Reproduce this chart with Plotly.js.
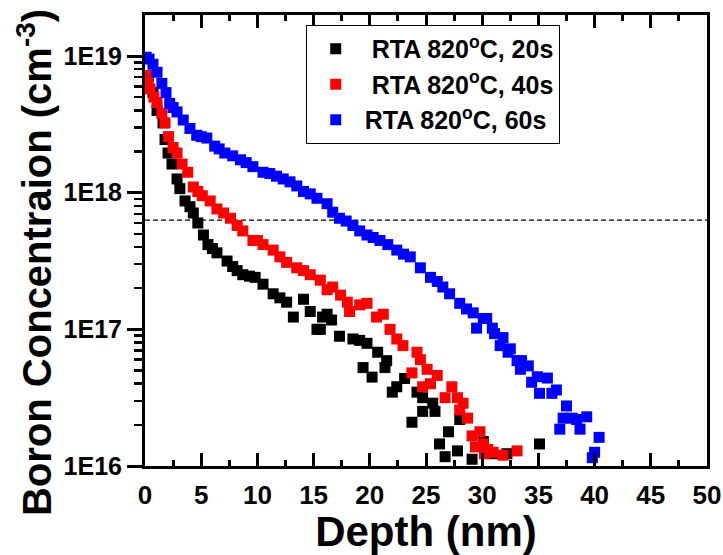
<!DOCTYPE html>
<html>
<head>
<meta charset="utf-8">
<script src="https://cdn.plot.ly/plotly-3.0.1.min.js"></script>
<style>html,body{margin:0;padding:0;background:#fff;}#chart{width:723px;height:555px;}</style>
</head>
<body>
<div id="chart"></div>
<script>
// Depth (nm) and boron concentration (cm^-3)
const depth20 = [0.3,0.71,1.07,1.6,1.78,2.05,2.4,2.85,3.1,3.56,4.0,4.3,4.7,5.2,5.6,6.0,6.4,7.3,7.8,8.2,8.7,9.3,9.8,10.5,11.4,12.0,12.6,13.2,14.1,14.7,15.3,15.6,15.8,16.2,16.6,17.3,18.5,19.1,19.4,19.75,20.2,20.7,21.35,21.5,22.0,22.4,23.1,23.75,24.2,24.7,24.7,25.6,25.8,26.2,26.7,27.0,27.8,28.0,29.1,30.1,30.9,32.2,35.1];
const conc20  = [7.1e18,5.4e18,4.0e18,3.24e18,2.45e18,1.95e18,1.62e18,1.26e18,1.07e18,8.7e17,7.9e17,7.1e17,6.0e17,4.9e17,4.17e17,3.9e17,3.63e17,3.16e17,2.88e17,2.69e17,2.51e17,2.45e17,2.40e17,2.14e17,1.82e17,1.70e17,1.58e17,1.23e17,1.66e17,1.35e17,1.0e17,1.0e17,1.23e17,1.29e17,1.17e17,8.9e16,8.5e16,8.3e16,5.25e16,7.9e16,4.47e16,6.8e16,5.25e16,5.9e16,3.47e16,3.8e16,4.37e16,2.09e16,3.47e16,3.16e16,2.51e16,2.88e16,2.51e16,1.45e16,1.17e16,1.78e16,1.29e16,2.19e16,1.12e16,1.51e16,1.23e16,1.23e16,1.45e16];

const depth40 = [0.1,0.27,0.44,0.8,1.07,1.5,1.78,2.1,2.5,2.85,3.3,3.8,4.3,4.7,5.1,5.8,6.4,7.0,7.6,8.2,8.7,9.6,10.0,10.5,11.4,12.0,12.6,13.5,14.1,14.7,15.6,16.2,16.7,17.4,18.0,18.2,19.1,19.75,20.6,21.2,21.8,22.4,22.95,23.75,24.2,24.5,24.7,25.1,25.4,26.0,26.7,27.3,27.8,28.0,28.3,28.7,29.1,29.4,29.8,30.1,30.2,30.5,30.96,31.85,33.1];
const conc40  = [7.2e18,6.8e18,5.75e18,5.0e18,4.57e18,3.8e18,3.24e18,2.57e18,2.14e18,1.95e18,1.62e18,1.41e18,1.10e18,1.02e18,9.5e17,8.7e17,7.6e17,7.1e17,6.5e17,5.75e17,5.25e17,4.47e17,4.47e17,4.17e17,3.8e17,3.39e17,3.09e17,2.82e17,2.69e17,2.51e17,2.29e17,1.95e17,2.04e17,1.78e17,1.58e17,1.35e17,1.51e17,1.55e17,1.23e17,1.29e17,1.0e17,8.5e16,7.6e16,4.8e16,6.8e16,6.0e16,3.8e16,5.1e16,4.0e16,4.6e16,3.16e16,3.8e16,3.16e16,2.57e16,2.88e16,2.24e16,1.66e16,1.38e16,1.78e16,1.45e16,1.23e16,1.32e16,1.26e16,1.20e16,1.29e16];

const depth60 = [0.1,0.36,0.71,1.07,1.5,1.87,2.2,2.5,2.85,3.4,4.0,4.6,5.0,5.5,6.2,6.6,7.1,7.8,8.5,9.0,9.6,10.5,11.1,11.7,12.3,12.9,13.5,14.1,14.7,15.3,16.2,16.7,17.3,17.9,18.5,19.1,19.75,20.3,20.9,21.6,22.4,23.0,23.6,24.5,25.4,26.0,26.5,27.1,28.0,28.6,29.2,29.5,30.1,30.4,30.9,31.1,31.6,31.85,32.3,32.5,33.1,33.4,33.5,34.1,34.4,34.9,35.1,35.8,36.2,36.6,36.9,37.2,37.5,38.0,38.4,38.7,39.3,39.8,40.0,40.4];
const conc60  = [9.8e18,9.5e18,8.7e18,7.6e18,6.3e18,5.4e18,4.5e18,4.2e18,3.9e18,3.4e18,2.95e18,2.63e18,2.57e18,2.51e18,2.19e18,2.09e18,1.95e18,1.86e18,1.74e18,1.66e18,1.55e18,1.41e18,1.38e18,1.32e18,1.26e18,1.20e18,1.12e18,1.02e18,9.8e17,9.1e17,8.3e17,7.2e17,6.5e17,6.2e17,5.75e17,5.25e17,4.9e17,4.7e17,4.47e17,4.17e17,3.8e17,3.55e17,3.39e17,2.82e17,2.40e17,2.24e17,2.04e17,1.82e17,1.55e17,1.41e17,1.32e17,1.02e17,1.20e17,1.20e17,1.02e17,9.3e16,7.6e16,8.7e16,6.8e16,7.2e16,5.9e16,5.1e16,5.9e16,5.4e16,4.1e16,4.5e16,3.4e16,4.4e16,3.4e16,3.6e16,1.86e16,2.24e16,2.75e16,2.24e16,2.19e16,1.86e16,2.29e16,1.15e16,1.26e16,1.62e16];

const seriesNames = ['\u00a0RTA 820<sup>o</sup>C, 20s', '\u00a0RTA 820<sup>o</sup>C, 40s', 'RTA 820<sup>o</sup>C, 60s'];
const seriesColors = ['#000000', '#ff0000', '#0000ff'];
const refDepth = [0, 50];
const refLevel = [6.3e17, 6.3e17];

const yTickVals = [1e16, 1e17, 1e18, 1e19];
const yTickText = ['1E16', '1E17', '1E18', '1E19'];
const yMinorVals = [];
[1e16, 1e17, 1e18, 1e19].forEach(d => { for (let k = 2; k <= 9; k++) yMinorVals.push(k * d); });
const yTitle = 'Boron Concentraion (cm<sup>-3</sup>)';

const font = 'Liberation Sans, Arial, sans-serif';
const depths = [depth20, depth40, depth60];
const concs = [conc20, conc40, conc60];

const traces = [{
  x: refDepth, y: refLevel, mode: 'lines', showlegend: false, hoverinfo: 'skip',
  line: {color: '#000', width: 1.3, dash: '5px,3px'}
}];
for (let i = 0; i < 3; i++) {
  traces.push({
    x: depths[i], y: concs[i], mode: 'markers', type: 'scatter', name: seriesNames[i],
    marker: {symbol: 'square', size: 11, color: seriesColors[i], line: {width: 0}}
  });
}

const layout = {
  width: 723, height: 555,
  margin: {l: 145, r: 16, t: 15, b: 89},
  paper_bgcolor: '#fff', plot_bgcolor: '#fff',
  showlegend: true,
  legend: {
    x: 0.286, y: 0.978, xanchor: 'left', yanchor: 'top',
    bordercolor: '#000', borderwidth: 1, bgcolor: '#fff',
    font: {family: font, size: 25, color: '#000', weight: 'bold'},
    itemwidth: 48, tracegroupgap: 0
  },
  xaxis: {
    range: [0, 50], tickvals: [0,5,10,15,20,25,30,35,40,45,50],
    ticks: 'inside', ticklen: 13, tickwidth: 3, tickcolor: '#000',
    minor: {tickvals: [2.5,7.5,12.5,17.5,22.5,27.5,32.5,37.5,42.5,47.5], ticks: 'inside', ticklen: 6, tickwidth: 3, tickcolor: '#000', showgrid: false},
    showline: true, linewidth: 3, linecolor: '#000', mirror: 'ticks',
    showgrid: false, zeroline: false,
    tickfont: {family: font, size: 26, color: '#000', weight: 'bold'},
    ticklabelstandoff: 4,
    title: {text: 'Depth (nm)', font: {family: font, size: 42, color: '#000', weight: 'bold'}, standoff: 6}
  },
  yaxis: {
    type: 'log', range: [16, 19.3],
    tickvals: yTickVals, ticktext: yTickText,
    ticks: 'outside', ticklen: 15, tickwidth: 3, tickcolor: '#000',
    minor: {tickvals: yMinorVals, ticks: 'outside', ticklen: 8, tickwidth: 2.5, tickcolor: '#000', showgrid: false},
    showline: true, linewidth: 3, linecolor: '#000', mirror: true,
    showgrid: false, zeroline: false,
    tickfont: {family: font, size: 25, color: '#000', weight: 'bold'}
  },
  annotations: [{
    text: yTitle, xref: 'paper', yref: 'paper', x: -0.196, y: 0.452,
    xanchor: 'center', yanchor: 'middle', textangle: -90, showarrow: false,
    font: {family: font, size: 40, color: '#000', weight: 'bold'}
  }]
};

Plotly.newPlot('chart', traces, layout, {displayModeBar: false, staticPlot: true});
</script>
</body>
</html>
